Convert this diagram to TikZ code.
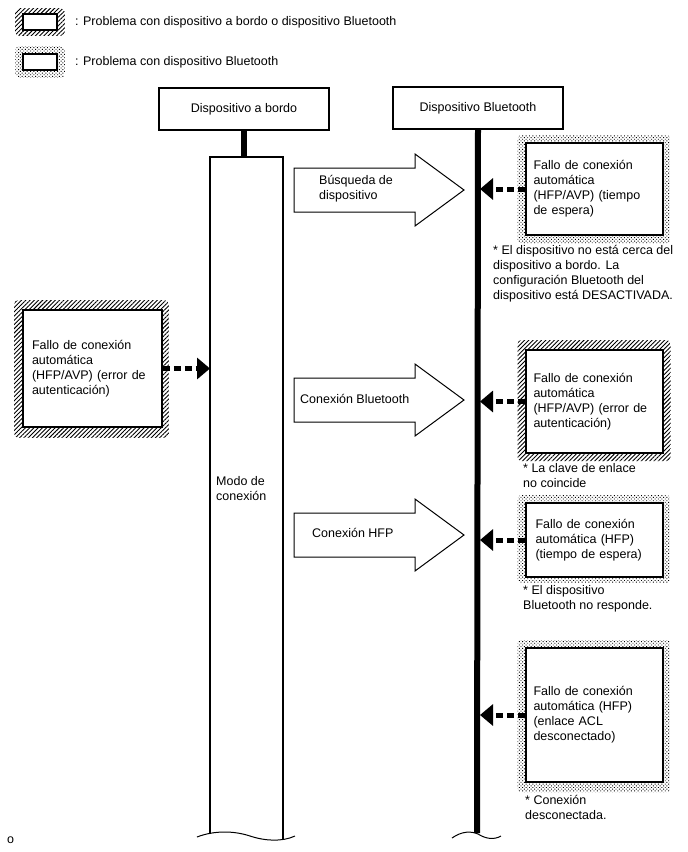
\documentclass[tikz,border=0pt]{standalone}
\usepackage{fontspec}
\setmainfont{Liberation Sans}
\usetikzlibrary{positioning,patterns,patterns.meta,arrows.meta,backgrounds}

\tikzset{
  lbl/.style={font=\fontsize{12.5}{15}\selectfont, align=left, inner sep=0pt},
  caja/.style={draw, line width=1.2pt, fill=white, minimum width=170pt, minimum height=42pt,
    font=\fontsize{12.5}{15}\selectfont},
  fallo/.style={draw, line width=2pt, fill=white, align=left, font=\fontsize{12.5}{15}\selectfont,
    inner xsep=8pt, text width=121pt},
  leyenda/.style={draw, line width=1.6pt, fill=white, minimum width=34pt, minimum height=16pt, inner sep=0pt},
  rayas/.style={pattern={Lines[angle=45,distance=3pt,line width=0.9pt]}, rounded corners=4pt},
  puntos/.style={pattern={Dots[angle=45,distance=2.4pt,radius=0.65pt]}, rounded corners=4pt},
  flecha/.style={draw, line width=1pt, fill=white, line join=miter},
  punteada/.style={line width=5pt, dash pattern=on 7pt off 4pt, -{Triangle[length=13pt,width=21pt]}},
  gruesa/.style={line width=6pt},
}

\begin{document}
\begin{tikzpicture}[x=1pt,y=-1pt]
\useasboundingbox (0,0) rectangle (688,852);

% leyenda
\node[leyenda] (ley1) at (40,22) {};
\node[lbl, right=17pt of ley1] (tley1) {: Problema con dispositivo a bordo o dispositivo Bluetooth};
\node[leyenda] (ley2) at (40,62) {};
\node[lbl, right=17pt of ley2] (tley2) {: Problema con dispositivo Bluetooth};

% dispositivos
\node[caja] (dab) at (244,109) {Dispositivo a bordo};
\node[caja] (dbt) at (478,108) {Dispositivo Bluetooth};

% modo de conexion
\coordinate (modoL) at (210,157);
\draw[gruesa] (dab.south) -- (244,157);
\draw[line width=1.2pt] (210,834) -- (modoL) -- (283,157) -- (283,840);
\draw[line width=1pt] (197,837) .. controls (215,830) and (235,831) .. (250,836)
  .. controls (265,841) and (282,842) .. (295,836);
\node[lbl, anchor=west] (modo) at (216,489) {Modo de\\conexión};

% linea Bluetooth
\coordinate (btR) at (480,131);
\draw[gruesa] (dbt.south) -- (477,833);
\draw[line width=1pt] (452,838) .. controls (462,831) and (471,831) .. (478,834)
  .. controls (486,839) and (494,840) .. (501,836);

% flechas grandes
\draw[flecha] (294,168) -- (415,168) -- (415,154) -- (464,190) -- (415,226) -- (415,212) -- (294,212) -- cycle;
\node[lbl, anchor=west] (busq) at (319,189) {Búsqueda de\\dispositivo};
\draw[flecha] (294,378) -- (415,378) -- (415,364) -- (464,400) -- (415,436) -- (415,422) -- (294,422) -- cycle;
\node[lbl, anchor=west] (conbt) at (300,399) {Conexión Bluetooth};
\draw[flecha] (294,513) -- (415,513) -- (415,499) -- (464,535) -- (415,571) -- (415,557) -- (294,557) -- cycle;
\node[lbl, anchor=west] (conhfp) at (312,533) {Conexión HFP};

% fallos
\node[fallo, line width=1.6pt, inner xsep=9pt, minimum height=117pt] (izq) at (92.5,368.5)
  {Fallo de conexión\\automática\\(HFP/AVP) (error de\\autenticación)};
\node[fallo, minimum height=92pt] (f1) at (594,189)
  {Fallo de conexión\\automática\\(HFP/AVP) (tiempo\\de espera)};
\node[fallo, minimum height=103pt] (f2) at (594,401.5)
  {Fallo de conexión\\automática\\(HFP/AVP) (error de\\autenticación)};
\node[fallo, inner xsep=10pt, text width=117pt, minimum height=74pt] (f3) at (594,540)
  {Fallo de conexión\\automática (HFP)\\(tiempo de espera)};
\node[fallo, minimum height=134pt] (f4) at (594,715)
  {Fallo de conexión\\automática (HFP)\\(enlace ACL\\desconectado)};

% notas
\node[lbl, anchor=north west] (n1) at (493,245) {* El dispositivo no está cerca del\\dispositivo a bordo. La\\configuración Bluetooth del\\dispositivo está DESACTIVADA.};
\node[lbl, anchor=north west] (n2) at (523,463) {* La clave de enlace\\no coincide};
\node[lbl, anchor=north west] (n3) at (523,585) {* El dispositivo\\Bluetooth no responde.};
\node[lbl, anchor=north west] (n4) at (525,795) {* Conexión\\desconectada.};

% flechas punteadas
\draw[punteada] (izq.east) -- (izq.east -| modoL);
\draw[punteada] (f1.west) -- (f1.west -| btR);
\draw[punteada] (f2.west) -- (f2.west -| btR);
\draw[punteada] (f3.west) -- (f3.west -| btR);
\draw[punteada] (f4.west) -- (f4.west -| btR);

\node[lbl, anchor=west] (o) at (7,840) {o};

% marcos
\begin{scope}[on background layer]
\fill[white] (0,0) rectangle (688,852);
\path[rayas] ([shift={(-7pt,5pt)}]ley1.north west) rectangle ([shift={(7pt,-5pt)}]ley1.south east);
\path[puntos] ([shift={(-7pt,7pt)}]ley2.north west) rectangle ([shift={(7pt,-7pt)}]ley2.south east);
\path[rayas] ([shift={(-8pt,9pt)}]izq.north west) rectangle ([shift={(6pt,-10pt)}]izq.south east);
\path[puntos] ([shift={(-7pt,7pt)}]f1.north west) rectangle ([shift={(7pt,-7pt)}]f1.south east);
\path[rayas] ([shift={(-7pt,9pt)}]f2.north west) rectangle ([shift={(7pt,-7pt)}]f2.south east);
\path[puntos] ([shift={(-7pt,7pt)}]f3.north west) rectangle ([shift={(7pt,-5pt)}]f3.south east);
\path[puntos] ([shift={(-7pt,7pt)}]f4.north west) rectangle ([shift={(7pt,-9pt)}]f4.south east);
\end{scope}
\end{tikzpicture}
\end{document}
